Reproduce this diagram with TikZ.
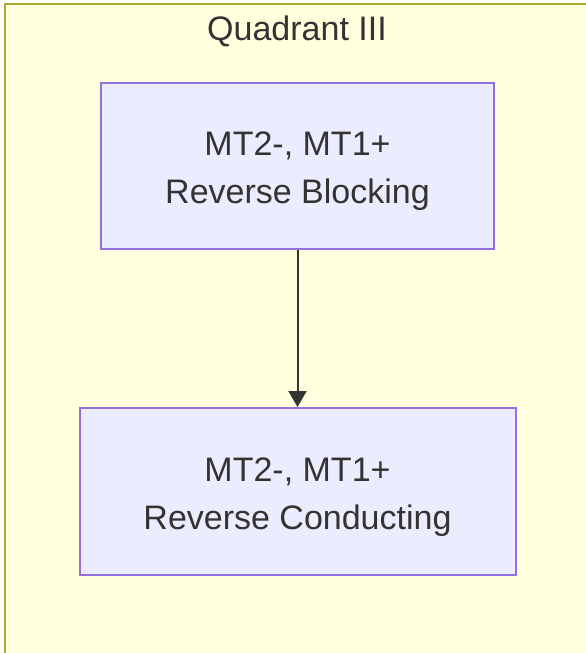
\documentclass[tikz,border=0pt]{standalone}
\usepackage{fontspec}
\setmainfont{Liberation Sans}
\usetikzlibrary{arrows.meta}
\definecolor{clfill}{HTML}{FFFFDE}
\definecolor{clstroke}{HTML}{AAAA33}
\definecolor{ndfill}{HTML}{ECECFF}
\definecolor{ndstroke}{HTML}{9370DB}
\definecolor{txt}{HTML}{333333}
\newcommand{\twolines}[2]{\raisebox{-4pt}[\height][\depth]{\begin{tabular}{@{}c@{}}#1\\#2\end{tabular}}}
\tikzset{
  statebox/.style={draw=ndstroke, fill=ndfill, line width=2pt, text=txt,
    font=\fontsize{34}{48}\selectfont, inner sep=0pt},
  flow/.style={draw=txt, line width=2pt, -{Triangle[length=16pt,width=18pt]}}
}
\begin{document}
\begin{tikzpicture}[x=1pt,y=-1pt]
\useasboundingbox (0,0) rectangle (586,653);
\begin{scope}
\clip (0,0) rectangle (586,653);
\draw[draw=clstroke, fill=clfill, line width=2pt] (5,4) rectangle (620,690);
\end{scope}
\node[text=txt, font=\fontsize{34}{40}\selectfont] (title) at (297,31.5) {Quadrant III};
\node[statebox, minimum width=393pt, minimum height=166pt] (a) at (297.5,166) {\twolines{MT2-, MT1+}{Reverse Blocking}};
\node[statebox, minimum width=436pt, minimum height=167pt] (b) at (297.5,491.5) {\twolines{MT2-, MT1+}{Reverse Conducting}};
\draw[flow] (a) -- (b);
\end{tikzpicture}
\end{document}
